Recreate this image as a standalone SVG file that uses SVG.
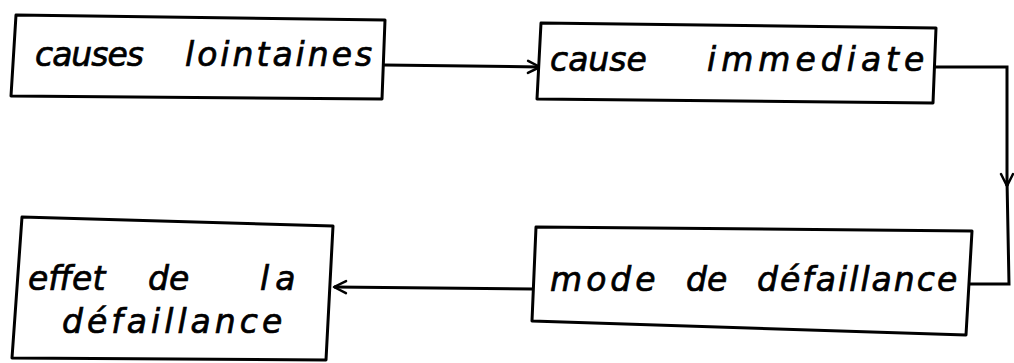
<svg xmlns="http://www.w3.org/2000/svg" width="1014" height="363" viewBox="0 0 1014 363">
<defs>
<marker id="arr" markerWidth="16" markerHeight="16" refX="14" refY="8" orient="auto" markerUnits="userSpaceOnUse">
<path d="M2,2 L14,8 L2,14" fill="none" stroke="#000" stroke-width="2.5" stroke-linecap="round" stroke-linejoin="round"/>
</marker>
<style>
.box{fill:#fff;stroke:#000;stroke-width:3;stroke-linejoin:round}
.lbl{font-family:"DejaVu Sans",sans-serif;font-style:italic;font-size:33px;fill:#000;stroke:#000;stroke-width:0.7}
.con{fill:none;stroke:#000;stroke-width:3}
</style>
</defs>
<rect width="1014" height="363" fill="#fff"/>
<g id="connectors">
<path class="con" d="M384,65 L540,67" marker-end="url(#arr)"/>
<path class="con" d="M934,67 L1007,67 L1007,186" marker-end="url(#arr)"/>
<path class="con" d="M1007,180 L1009,284 L970,284"/>
<path class="con" d="M533,289 L334,287" marker-end="url(#arr)"/>
</g>
<g id="n1">
<polygon class="box" points="16,15 385,20 382,99 11,96"/>
<text class="lbl" y="66"><tspan x="35" letter-spacing="-1">causes</tspan> <tspan x="185" letter-spacing="3">lointaines</tspan></text>
</g>
<g id="n2">
<polygon class="box" points="541,23 936,28 933,103 537,99"/>
<text class="lbl" y="71"><tspan x="550">cause</tspan> <tspan x="707" letter-spacing="5">immediate</tspan></text>
</g>
<g id="n3">
<polygon class="box" points="536,227 972,231 966,335 532,321"/>
<text class="lbl" y="291"><tspan x="550" letter-spacing="4">mode</tspan> <tspan x="686">de</tspan> <tspan x="757" letter-spacing="2">défaillance</tspan></text>
</g>
<g id="n4">
<polygon class="box" points="22,217 333,226 326,360 12,358"/>
<text class="lbl" y="290"><tspan x="28">effet</tspan> <tspan x="148">de</tspan> <tspan x="260" letter-spacing="6">la</tspan></text>
<text class="lbl" x="62" y="333" letter-spacing="4">défaillance</text>
</g>
</svg>
